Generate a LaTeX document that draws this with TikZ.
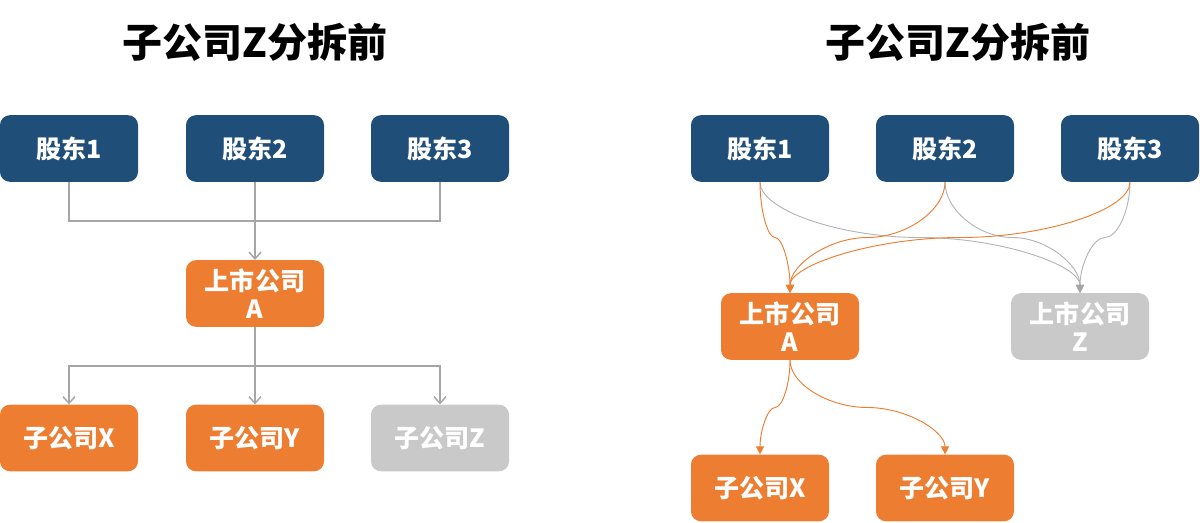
\documentclass[tikz,border=0pt]{standalone}
\usepackage{fontspec}
\setmainfont{Noto Sans CJK SC}
\usetikzlibrary{arrows.meta}
\definecolor{navy}{HTML}{1F4E79}
\definecolor{orng}{HTML}{ED7D31}
\definecolor{lgray}{HTML}{C9C9C9}
\definecolor{lnk}{HTML}{A6A6A6}
\definecolor{clnk}{HTML}{B4B4B4}
\begin{document}
\begin{tikzpicture}[x=0.75pt,y=-0.75pt,
  box/.style={rounded corners=7.5pt,minimum width=103.5pt,minimum height=50pt,inner sep=0pt,
    text=white,font=\bfseries\fontsize{18.8pt}{21pt}\selectfont,align=center},
  bluebox/.style={box,fill=navy},
  orbox/.style={box,fill=orng},
  grbox/.style={box,fill=lgray},
  title/.style={font=\bfseries\fontsize{30pt}{34pt}\selectfont,text=black},
  elbow/.style={draw=lnk,line width=1.1pt},
  elbowarr/.style={elbow,-{Straight Barb[length=5pt,width=9pt]}},
  cg/.style={draw=clnk,line width=0.7pt,-{Triangle[length=6pt,width=6pt,color=lnk]}},
  co/.style={draw=orng,line width=0.7pt,-{Triangle[length=6pt,width=6pt]}}]
\useasboundingbox (0,0) rectangle (1200,522);
% titles
\node[title] (t1) at (255,42) {子公司Z分拆前};
\node[title] (t2) at (958,42) {子公司Z分拆前};
% left diagram
\node[bluebox] (l1) at (69,148.5) {股东1};
\node[bluebox] (l2) at (255,148.5) {股东2};
\node[bluebox] (l3) at (440,148.5) {股东3};
\node[orbox] (la) at (255,293.5) {上市公司\\A};
\node[orbox] (lx) at (69,438) {子公司X};
\node[orbox] (ly) at (255,438) {子公司Y};
\node[grbox] (lz) at (440,438) {子公司Z};
\coordinate (j1) at (255,221);
\coordinate (j2) at (255,366);
\draw[elbow] (l1.south) |- (j1);
\draw[elbow] (l3.south) |- (j1);
\draw[elbow] (l2.south) -- (j1);
\draw[elbowarr] (j1) -- (la.north);
\draw[elbow] (la.south) -- (j2);
\draw[elbowarr] (j2) -| (lx.north);
\draw[elbowarr] (j2) -| (lz.north);
\draw[elbowarr] (j2) -- (ly.north);
% right diagram
\node[bluebox] (r1) at (760,148.5) {股东1};
\node[bluebox] (r2) at (945,148.5) {股东2};
\node[bluebox] (r3) at (1130,148.5) {股东3};
\node[orbox] (ra) at (790,326.5) {上市公司\\A};
\node[grbox] (rz) at (1080,326.5) {上市公司\\Z};
\node[orbox] (rx) at (760,488) {子公司X};
\node[orbox] (ry) at (945,488) {子公司Y};
% curved connectors (top)
\draw[cg] (r1.south) .. controls (760,210) and (840,237.5) .. (920,237.5) .. controls (1000,237.5) and (1080,265) .. (rz.north);
\draw[cg] (r2.south) .. controls (945,210) and (978.75,237.5) .. (1012.5,237.5) .. controls (1046.25,237.5) and (1080,265) .. (rz.north);
\draw[cg] (r3.south) .. controls (1130,210) and (1117.5,237.5) .. (1105,237.5) .. controls (1092.5,237.5) and (1080,265) .. (rz.north);
\draw[co] (r1.south) .. controls (760,210) and (767.5,237.5) .. (775,237.5) .. controls (782.5,237.5) and (790,265) .. (ra.north);
\draw[co] (r2.south) .. controls (945,210) and (906.25,237.5) .. (867.5,237.5) .. controls (828.75,237.5) and (790,265) .. (ra.north);
\draw[co] (r3.south) .. controls (1130,210) and (1045,237.5) .. (960,237.5) .. controls (875,237.5) and (790,265) .. (ra.north);
% curved connectors (bottom)
\draw[co] (ra.south) .. controls (790,384) and (782.5,407.5) .. (775,407.5) .. controls (767.5,407.5) and (760,431) .. (rx.north);
\draw[co] (ra.south) .. controls (790,384) and (828.75,407.5) .. (867.5,407.5) .. controls (906.25,407.5) and (945,431) .. (ry.north);
\end{tikzpicture}
\end{document}
